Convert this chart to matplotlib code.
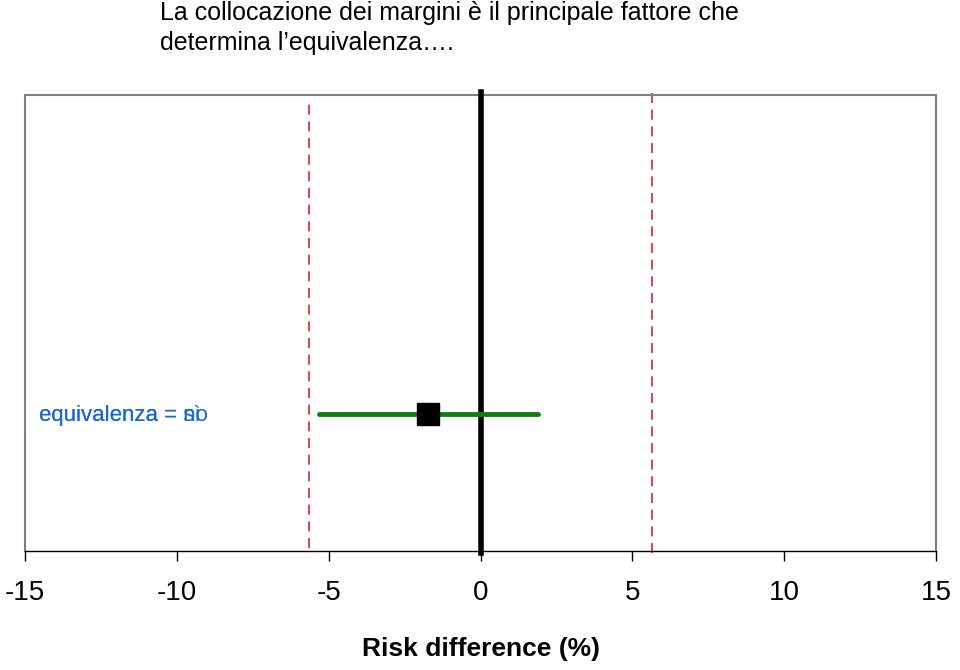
import matplotlib
matplotlib.use("Agg")
import matplotlib.pyplot as plt

# data
x_ticks = [-15, -10, -5, 0, 5, 10, 15]
margin_low = -5.65
margin_high = 5.65
point_est = -1.73
ci_low = -5.32
ci_high = 1.89
row_y = 0.30
labels = ["equivalenza = sì", "equivalenza = no"]

plt.rcParams['font.family'] = ['Liberation Sans', 'DejaVu Sans']
fig = plt.figure(figsize=(9.6, 6.7), dpi=100)
ax = fig.add_axes([25/960, 1-551/670, (936-25)/960, (551-95)/670])
ax.set_xlim(-15, 15)
ax.set_ylim(0, 1)

for s in ['left', 'top', 'right']:
    ax.spines[s].set_color('#808080')
    ax.spines[s].set_linewidth(1.5)
ax.spines['bottom'].set_color('black')
ax.spines['bottom'].set_linewidth(1.0)

ax.set_xticks(x_ticks)
ax.set_xticklabels([str(t) for t in x_ticks], fontsize=20)
ax.tick_params(axis='x', direction='out', length=7, width=1, pad=14)
ax.set_yticks([])

ax.plot([margin_low, margin_low], [0.007, 0.99], color='#d62728', lw=1.2,
        dashes=(6, 4), clip_on=False)
ax.plot([margin_high, margin_high], [-0.005, 1.007], color='#d62728', lw=1.2,
        dashes=(6, 4), clip_on=False)
ax.plot([0, 0], [-0.004, 1.007], color='black', lw=4, clip_on=False, zorder=3)

ax.plot([ci_low, ci_high], [row_y, row_y], color='#157a15', lw=3.5,
        solid_capstyle='round', zorder=4)
ax.plot([point_est], [row_y], marker='s', color='black', markersize=16, zorder=5)

for lab in labels:
    ax.text(39/960, 1-415/670, lab, transform=fig.transFigure, fontsize=16,
            color='#1a66d6', va='center', ha='left')

ax.set_xlabel("Risk difference (%)", fontsize=19, fontweight='bold', labelpad=22)

fig.text(160/960, 1-13/670, "La collocazione dei margini è il principale fattore che",
         fontsize=18, va='center', ha='left')
fig.text(160/960, 1-43/670, "determina l’equivalenza….",
         fontsize=18, va='center', ha='left')

fig.savefig("out.png", dpi=100)
